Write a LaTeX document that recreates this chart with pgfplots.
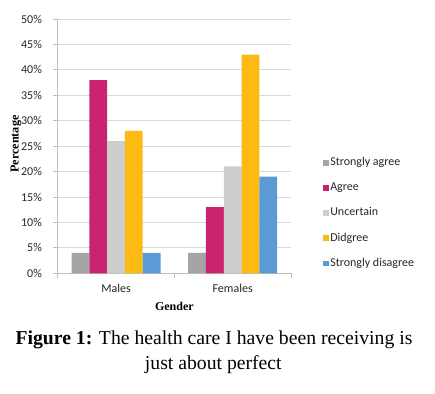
\documentclass[border=0pt]{standalone}
\usepackage{pgfplots}
\pgfplotsset{compat=1.18}
\usepackage{fontspec}
\setmainfont{Liberation Serif}
\newfontfamily\calibri{Carlito}
\definecolor{cSA}{HTML}{A5A5A5}
\definecolor{cA}{HTML}{C9246F}
\definecolor{cU}{HTML}{CDCDCD}
\definecolor{cD}{HTML}{FDBA12}
\definecolor{cSD}{HTML}{5B9BD5}
\definecolor{gridc}{HTML}{D9D9D9}
\definecolor{axc}{HTML}{BFBFBF}
\begin{document}
\begin{tikzpicture}
\useasboundingbox (0,0) rectangle (435pt,-393pt);
\begin{axis}[
  at={(57.7pt,-273.3pt)}, anchor=south west,
  width=233.3pt, height=254.3pt, scale only axis,
  ybar=0pt, bar width=17.8pt,
  xmin=-0.5, xmax=1.5, ymin=0, ymax=50,
  axis x line*=bottom, axis y line*=left,
  axis line style={draw=axc, line width=0.8pt},
  ymajorgrids, grid style={draw=gridc, line width=0.8pt},
  ytick={0,5,...,50},
  yticklabel={\pgfmathprintnumber{\tick}\%},
  /pgf/number format/assume math mode=true,
  tick align=outside, major tick length=4.4pt,
  tick style={draw=axc, line width=0.8pt},
  yticklabel style={font=\calibri\fontsize{12}{14}\selectfont, text=black!85, xshift=-7.9pt},
  xtick={-0.5,0.5,1.5}, xticklabels={},
  extra x ticks={0,1}, extra x tick labels={Males,Females},
  extra x tick style={major tick length=0pt, xticklabel style={font=\calibri\fontsize{12}{14}\selectfont, text=black!85, anchor=base, yshift=-19.4pt}},
  xlabel={\textbf{Gender}}, ylabel={\textbf{Percentage}},
  every axis x label/.style={at={(axis description cs:0.5,-0.1471)}, anchor=base, font=\fontsize{12}{14}\selectfont},
  every axis y label/.style={at={(axis description cs:-0.1787,0.508)}, rotate=90, anchor=center, font=\fontsize{12.2}{14}\selectfont},
  legend style={at={(axis description cs:1.1384,0.4605)}, anchor=north west, draw=none, fill=none,
    inner xsep=0pt, inner ysep=0pt, row sep=12.7pt,
    nodes={inner sep=1pt, text height=8pt, text depth=2.5pt},
    font=\calibri\fontsize{12}{14}\selectfont, text=black!85},
  legend cell align=left,
  legend image code/.code={\fill[#1] (0pt,-2.9pt) rectangle (5.8pt,2.9pt);},
]
\addplot[fill=cSA, draw=none] coordinates {(0,4) (1,4)};
\addplot[fill=cA, draw=none] coordinates {(0,38) (1,13)};
\addplot[fill=cU, draw=none] coordinates {(0,26) (1,21)};
\addplot[fill=cD, draw=none] coordinates {(0,28) (1,43)};
\addplot[fill=cSD, draw=none] coordinates {(0,4) (1,19)};
\legend{Strongly agree, Agree, Uncertain, Didgree, Strongly disagree}
\end{axis}
\node[anchor=base, font=\fontsize{19.7}{23}\selectfont] at (214pt,-344pt) {\textbf{Figure 1:} The health care I have been receiving is};
\node[anchor=base, font=\fontsize{19.7}{23}\selectfont] at (213.3pt,-369pt) {just about perfect};
\end{tikzpicture}
\end{document}
